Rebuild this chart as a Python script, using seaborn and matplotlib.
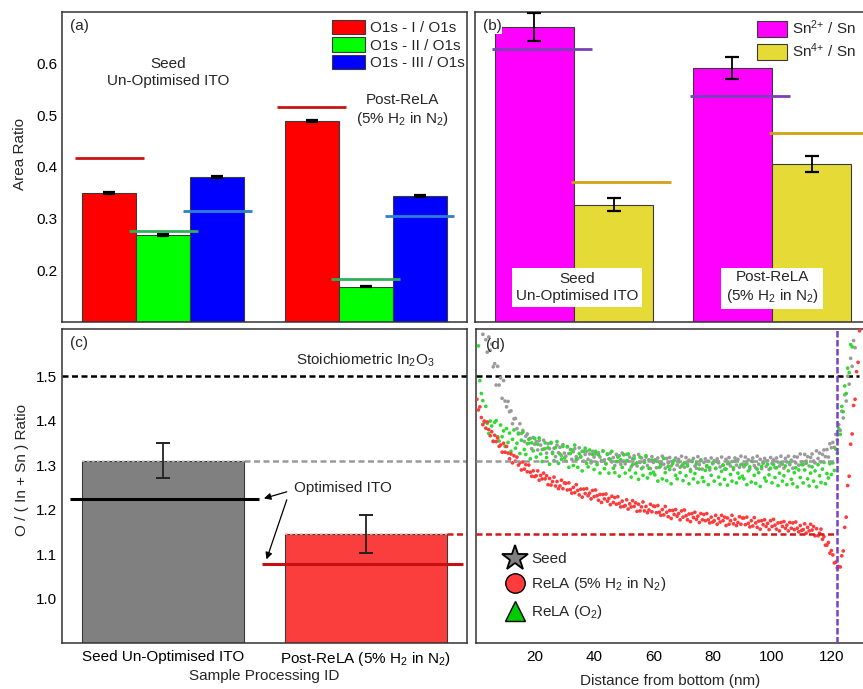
import numpy as np
import pandas as pd
import matplotlib
matplotlib.use("Agg")
import matplotlib.pyplot as plt
import seaborn as sns
from matplotlib.patches import Patch
from matplotlib.lines import Line2D
from matplotlib.ticker import MultipleLocator, FixedLocator

# ------------------------------------------------------------------ data
sample_short = ["Seed", "Post-ReLA"]
sample_labels = ["Seed Un-Optimised ITO", "Post-ReLA (5% H$_2$ in N$_2$)"]

o1s_labels = ["O1s - I / O1s", "O1s - II / O1s", "O1s - III / O1s"]
o1s_seed = [0.350, 0.268, 0.381]
o1s_post = [0.489, 0.168, 0.343]
o1s_err_seed = [0.002, 0.002, 0.002]
o1s_err_post = [0.002, 0.001, 0.002]
o1s_ref_seed = [0.417, 0.277, 0.315]
o1s_ref_post = [0.517, 0.183, 0.306]

sn_labels = ["Sn$^{2{+}}$ / Sn", "Sn$^{4{+}}$ / Sn"]
sn_seed = [0.671, 0.327]
sn_post = [0.592, 0.406]
sn_err_seed = [0.027, 0.013]
sn_err_post = [0.021, 0.015]
sn_ref_seed = [0.629, 0.371]
sn_ref_post = [0.538, 0.465]

ratio_vals = [1.310, 1.145]
ratio_err = [0.040, 0.042]
ratio_opt = [1.223, 1.077]
stoich_ratio = 1.5
interface_nm = 122

depth_nm = [
    0.5, 1.0, 1.5, 2.0, 2.5, 3.0, 3.5, 4.0, 4.5, 5.0, 5.5, 6.0, 6.5, 7.0, 7.5, 8.0, 8.5, 9.0, 9.5, 10.0,
    10.5, 11.0, 11.5, 12.0, 12.5, 13.0, 13.5, 14.0, 14.5, 15.0, 15.5, 16.0, 16.5, 17.0, 17.5, 18.0, 18.5, 19.0, 19.5, 20.0,
    20.5, 21.0, 21.5, 22.0, 22.5, 23.0, 23.5, 24.0, 24.5, 25.0, 25.5, 26.0, 26.5, 27.0, 27.5, 28.0, 28.5, 29.0, 29.5, 30.0,
    30.5, 31.0, 31.5, 32.0, 32.5, 33.0, 33.5, 34.0, 34.5, 35.0, 35.5, 36.0, 36.5, 37.0, 37.5, 38.0, 38.5, 39.0, 39.5, 40.0,
    40.5, 41.0, 41.5, 42.0, 42.5, 43.0, 43.5, 44.0, 44.5, 45.0, 45.5, 46.0, 46.5, 47.0, 47.5, 48.0, 48.5, 49.0, 49.5, 50.0,
    50.5, 51.0, 51.5, 52.0, 52.5, 53.0, 53.5, 54.0, 54.5, 55.0, 55.5, 56.0, 56.5, 57.0, 57.5, 58.0, 58.5, 59.0, 59.5, 60.0,
    60.5, 61.0, 61.5, 62.0, 62.5, 63.0, 63.5, 64.0, 64.5, 65.0, 65.5, 66.0, 66.5, 67.0, 67.5, 68.0, 68.5, 69.0, 69.5, 70.0,
    70.5, 71.0, 71.5, 72.0, 72.5, 73.0, 73.5, 74.0, 74.5, 75.0, 75.5, 76.0, 76.5, 77.0, 77.5, 78.0, 78.5, 79.0, 79.5, 80.0,
    80.5, 81.0, 81.5, 82.0, 82.5, 83.0, 83.5, 84.0, 84.5, 85.0, 85.5, 86.0, 86.5, 87.0, 87.5, 88.0, 88.5, 89.0, 89.5, 90.0,
    90.5, 91.0, 91.5, 92.0, 92.5, 93.0, 93.5, 94.0, 94.5, 95.0, 95.5, 96.0, 96.5, 97.0, 97.5, 98.0, 98.5, 99.0, 99.5, 100.0,
    100.5, 101.0, 101.5, 102.0, 102.5, 103.0, 103.5, 104.0, 104.5, 105.0, 105.5, 106.0, 106.5, 107.0, 107.5, 108.0, 108.5, 109.0, 109.5, 110.0,
    110.5, 111.0, 111.5, 112.0, 112.5, 113.0, 113.5, 114.0, 114.5, 115.0, 115.5, 116.0, 116.5, 117.0, 117.5, 118.0, 118.5, 119.0, 119.5, 120.0,
    120.5, 121.0, 121.5, 122.0, 122.5, 123.0, 123.5, 124.0, 124.5, 125.0, 125.5, 126.0, 126.5, 127.0, 127.5, 128.0, 128.5, 129.0, 129.5, 130.0, 130.5,
]

ratio_seed = [
    1.662, 1.616, 1.650, 1.622, 1.594, 1.628, 1.582, 1.554, 1.588, 1.558, 1.572, 1.521, 1.528, 1.480, 1.522, 1.480, 1.496, 1.450, 1.490, 1.444,
    1.431, 1.443, 1.420, 1.422, 1.393, 1.404, 1.405, 1.382, 1.372, 1.393, 1.371, 1.378, 1.353, 1.365, 1.370, 1.349, 1.360, 1.337, 1.362, 1.347,
    1.353, 1.334, 1.355, 1.345, 1.335, 1.356, 1.337, 1.327, 1.348, 1.337, 1.349, 1.329, 1.338, 1.319, 1.345, 1.328, 1.340, 1.321, 1.346, 1.327,
    1.320, 1.342, 1.326, 1.335, 1.313, 1.330, 1.337, 1.319, 1.314, 1.339, 1.320, 1.331, 1.309, 1.324, 1.331, 1.313, 1.325, 1.305, 1.331, 1.318,
    1.325, 1.306, 1.328, 1.318, 1.309, 1.331, 1.312, 1.303, 1.324, 1.314, 1.327, 1.307, 1.317, 1.299, 1.324, 1.308, 1.321, 1.302, 1.327, 1.309,
    1.303, 1.324, 1.309, 1.318, 1.296, 1.314, 1.321, 1.303, 1.298, 1.324, 1.306, 1.316, 1.295, 1.310, 1.318, 1.299, 1.312, 1.292, 1.319, 1.306,
    1.312, 1.294, 1.316, 1.307, 1.298, 1.320, 1.302, 1.293, 1.315, 1.305, 1.317, 1.298, 1.308, 1.290, 1.316, 1.300, 1.313, 1.295, 1.320, 1.302,
    1.295, 1.317, 1.302, 1.311, 1.290, 1.308, 1.315, 1.298, 1.293, 1.319, 1.301, 1.312, 1.291, 1.306, 1.314, 1.296, 1.309, 1.289, 1.316, 1.303,
    1.310, 1.292, 1.314, 1.305, 1.296, 1.318, 1.300, 1.291, 1.313, 1.303, 1.317, 1.298, 1.308, 1.290, 1.316, 1.300, 1.313, 1.295, 1.320, 1.302,
    1.296, 1.318, 1.303, 1.312, 1.291, 1.309, 1.316, 1.299, 1.294, 1.320, 1.302, 1.313, 1.292, 1.307, 1.315, 1.297, 1.310, 1.290, 1.317, 1.304,
    1.312, 1.294, 1.316, 1.307, 1.298, 1.320, 1.302, 1.293, 1.315, 1.307, 1.320, 1.301, 1.311, 1.293, 1.319, 1.305, 1.318, 1.300, 1.325, 1.307,
    1.301, 1.324, 1.309, 1.319, 1.298, 1.317, 1.325, 1.309, 1.305, 1.332, 1.315, 1.327, 1.307, 1.324, 1.334, 1.319, 1.335, 1.318, 1.348, 1.339,
    1.351, 1.340, 1.369, 1.357, 1.391, 1.378, 1.421, 1.406, 1.458, 1.444, 1.500, 1.482, 1.540, 1.522, 1.580, 1.564, 1.614, 1.620, 1.640, 1.660, 1.680,
]

ratio_rela_h2 = [
    1.448, 1.424, 1.431, 1.407, 1.391, 1.399, 1.383, 1.397, 1.380, 1.366, 1.375, 1.353, 1.367, 1.353, 1.361, 1.342, 1.345, 1.329, 1.349, 1.329,
    1.342, 1.327, 1.314, 1.325, 1.305, 1.321, 1.309, 1.318, 1.300, 1.305, 1.289, 1.307, 1.291, 1.301, 1.285, 1.300, 1.284, 1.275, 1.287, 1.274,
    1.276, 1.287, 1.266, 1.277, 1.269, 1.282, 1.269, 1.276, 1.256, 1.270, 1.255, 1.263, 1.273, 1.253, 1.263, 1.247, 1.253, 1.266, 1.247, 1.260,
    1.259, 1.244, 1.260, 1.245, 1.237, 1.250, 1.238, 1.256, 1.243, 1.233, 1.246, 1.228, 1.246, 1.236, 1.247, 1.231, 1.237, 1.224, 1.243, 1.229,
    1.244, 1.231, 1.221, 1.234, 1.216, 1.234, 1.224, 1.235, 1.219, 1.225, 1.211, 1.230, 1.216, 1.227, 1.212, 1.229, 1.214, 1.206, 1.219, 1.207,
    1.209, 1.222, 1.201, 1.213, 1.206, 1.220, 1.207, 1.215, 1.196, 1.212, 1.197, 1.206, 1.217, 1.197, 1.207, 1.193, 1.199, 1.212, 1.195, 1.208,
    1.207, 1.193, 1.209, 1.194, 1.187, 1.200, 1.188, 1.207, 1.194, 1.184, 1.198, 1.180, 1.198, 1.189, 1.200, 1.185, 1.191, 1.177, 1.197, 1.183,
    1.199, 1.186, 1.177, 1.190, 1.173, 1.191, 1.182, 1.194, 1.178, 1.185, 1.171, 1.191, 1.177, 1.189, 1.175, 1.191, 1.177, 1.170, 1.183, 1.172,
    1.175, 1.187, 1.167, 1.180, 1.172, 1.187, 1.175, 1.183, 1.164, 1.181, 1.167, 1.175, 1.187, 1.168, 1.178, 1.164, 1.171, 1.184, 1.167, 1.181,
    1.181, 1.166, 1.183, 1.169, 1.161, 1.175, 1.163, 1.182, 1.170, 1.160, 1.174, 1.156, 1.175, 1.166, 1.177, 1.162, 1.169, 1.155, 1.175, 1.162,
    1.178, 1.165, 1.156, 1.170, 1.152, 1.171, 1.162, 1.173, 1.158, 1.165, 1.152, 1.171, 1.158, 1.170, 1.155, 1.172, 1.158, 1.150, 1.164, 1.153,
    1.155, 1.168, 1.147, 1.160, 1.152, 1.167, 1.154, 1.162, 1.141, 1.157, 1.141, 1.147, 1.156, 1.133, 1.139, 1.120, 1.120, 1.126, 1.102, 1.108,
    1.098, 1.080, 1.082, 1.069, 1.072, 1.071, 1.096, 1.107, 1.160, 1.183, 1.254, 1.275, 1.347, 1.370, 1.434, 1.448, 1.510, 1.531, 1.602, 1.620, 1.678,
]

ratio_rela_o2 = [
    1.635, 1.568, 1.490, 1.461, 1.445, 1.396, 1.432, 1.394, 1.371, 1.399, 1.388, 1.354, 1.396, 1.400, 1.364, 1.354, 1.390, 1.364, 1.377, 1.342,
    1.382, 1.351, 1.372, 1.331, 1.358, 1.379, 1.338, 1.349, 1.370, 1.326, 1.356, 1.374, 1.335, 1.324, 1.348, 1.358, 1.314, 1.350, 1.332, 1.360,
    1.318, 1.347, 1.361, 1.325, 1.308, 1.336, 1.350, 1.317, 1.339, 1.302, 1.351, 1.326, 1.310, 1.339, 1.353, 1.304, 1.325, 1.313, 1.342, 1.316,
    1.309, 1.341, 1.295, 1.326, 1.334, 1.299, 1.345, 1.313, 1.295, 1.326, 1.318, 1.287, 1.331, 1.338, 1.304, 1.296, 1.334, 1.309, 1.324, 1.290,
    1.331, 1.301, 1.323, 1.282, 1.310, 1.332, 1.292, 1.303, 1.325, 1.282, 1.313, 1.331, 1.293, 1.283, 1.308, 1.318, 1.275, 1.312, 1.295, 1.323,
    1.282, 1.310, 1.325, 1.289, 1.273, 1.301, 1.315, 1.282, 1.305, 1.268, 1.318, 1.292, 1.277, 1.306, 1.321, 1.271, 1.293, 1.281, 1.311, 1.284,
    1.278, 1.309, 1.264, 1.295, 1.303, 1.269, 1.315, 1.283, 1.265, 1.297, 1.290, 1.258, 1.303, 1.310, 1.277, 1.269, 1.307, 1.283, 1.298, 1.265,
    1.305, 1.276, 1.298, 1.258, 1.286, 1.309, 1.269, 1.281, 1.303, 1.261, 1.291, 1.310, 1.272, 1.263, 1.288, 1.299, 1.256, 1.294, 1.277, 1.305,
    1.264, 1.293, 1.308, 1.273, 1.257, 1.286, 1.300, 1.268, 1.291, 1.255, 1.304, 1.279, 1.264, 1.294, 1.309, 1.260, 1.282, 1.271, 1.301, 1.275,
    1.269, 1.301, 1.256, 1.287, 1.296, 1.262, 1.308, 1.277, 1.259, 1.291, 1.283, 1.252, 1.297, 1.304, 1.271, 1.264, 1.302, 1.278, 1.293, 1.260,
    1.301, 1.272, 1.294, 1.254, 1.282, 1.305, 1.264, 1.276, 1.298, 1.256, 1.287, 1.306, 1.268, 1.258, 1.283, 1.294, 1.251, 1.289, 1.272, 1.301,
    1.260, 1.289, 1.304, 1.269, 1.253, 1.282, 1.296, 1.264, 1.287, 1.251, 1.301, 1.276, 1.261, 1.291, 1.306, 1.258, 1.281, 1.271, 1.303, 1.279,
    1.305, 1.288, 1.336, 1.326, 1.382, 1.369, 1.432, 1.420, 1.478, 1.461, 1.518, 1.508, 1.571, 1.566, 1.615, 1.620, 1.660, 1.690, 1.720, 1.750, 1.780,
]

# ------------------------------------------------------------------ style
FS = 11
sns.set_style("white")
plt.rcParams["font.family"] = ["Liberation Sans", "DejaVu Sans"]
plt.rcParams["mathtext.default"] = "regular"
plt.rcParams["font.size"] = FS
plt.rcParams["axes.edgecolor"] = "#333333"
plt.rcParams["axes.linewidth"] = 1.1

W, H = 863, 689
fig = plt.figure(figsize=(W / 100, H / 100), dpi=100)


def rect(x0, y0, x1, y1):
    return [x0 / W, 1 - y1 / H, (x1 - x0) / W, (y1 - y0) / H]


ax_a = fig.add_axes(rect(62, 12, 467, 322))
ax_b = fig.add_axes(rect(475, 12, 871, 322))
ax_c = fig.add_axes(rect(62, 329, 467, 643))
ax_d = fig.add_axes(rect(476, 329, 864, 643))

edge = "#3a3a3a"
DASH = (0, (2.4, 1.4))


def style_ticks(ax):
    ax.tick_params(which="both", direction="in", color="#333333", width=1.0,
                   labelsize=FS, labelcolor="black")
    ax.tick_params(which="major", length=4)
    ax.tick_params(which="minor", length=3)
    for s in ax.spines.values():
        s.set_color("#333333")
        s.set_linewidth(1.1)
        s.set_visible(True)


# ------------------------------------------------------------------ (a)
df_a = pd.DataFrame({
    "sample": [sample_short[0]] * 3 + [sample_short[1]] * 3,
    "component": o1s_labels * 2,
    "ratio": o1s_seed + o1s_post,
})
o1s_colors = ["#FF0000", "#00FF00", "#0000FF"]
o1s_ref_colors = ["#C81414", "#2FB05A", "#2C7FD2"]
sns.barplot(data=df_a, x="sample", y="ratio", hue="component",
            palette=o1s_colors, saturation=1, errorbar=None,
            edgecolor=edge, linewidth=0.8, legend=False, ax=ax_a)
bars_a = list(ax_a.containers)
for i, cont in enumerate(bars_a):
    errs = [o1s_err_seed[i], o1s_err_post[i]]
    refs = [o1s_ref_seed[i], o1s_ref_post[i]]
    for j, p in enumerate(cont.patches):
        xc = p.get_x() + p.get_width() / 2
        ax_a.errorbar(xc, p.get_height(), yerr=errs[j], fmt="none",
                      ecolor="black", elinewidth=1.2, capsize=4, capthick=1.6)
        ax_a.hlines(refs[j], xc - 0.17, xc + 0.17, color=o1s_ref_colors[i], lw=2)
ax_a.set_xlim(-0.5, 1.5)
ax_a.set_ylim(0.1, 0.7)
ax_a.set_yticks([0.2, 0.3, 0.4, 0.5, 0.6])
ax_a.set_xticks([0, 1])
ax_a.xaxis.set_minor_locator(FixedLocator([0.5]))
ax_a.set_xticklabels([])
ax_a.set_xlabel("")
ax_a.set_ylabel("Area Ratio", fontsize=FS)
ax_a.yaxis.set_label_coords(-0.086, 0.542)
style_ticks(ax_a)
ax_a.text(0.02, 0.955, "(a)", transform=ax_a.transAxes, fontsize=FS, va="center")
ax_a.text(0.023, 0.583, "Seed\nUn-Optimised ITO", ha="center", va="center",
          fontsize=FS, linespacing=1.25)
ax_a.text(1.18, 0.51, "Post-ReLA\n(5% H$_2$ in N$_2$)", ha="center", va="center",
          fontsize=FS, linespacing=1.25)
ax_a.legend(
    handles=[Patch(facecolor=c, edgecolor=edge, linewidth=0.8) for c in o1s_colors],
    labels=o1s_labels, loc="upper left", bbox_to_anchor=(0.667, 0.975),
    frameon=False, fontsize=FS, handlelength=2.15, handleheight=1.1,
    labelspacing=0.13, handletextpad=0.3, borderaxespad=0, borderpad=0)

# ------------------------------------------------------------------ (b)
df_b = pd.DataFrame({
    "sample": [sample_short[0]] * 2 + [sample_short[1]] * 2,
    "state": sn_labels * 2,
    "ratio": sn_seed + sn_post,
})
sn_colors = ["#FF00FF", "#E6DB36"]
sn_ref_colors = ["#7B3FB8", "#D4A017"]
sns.barplot(data=df_b, x="sample", y="ratio", hue="state",
            palette=sn_colors, saturation=1, errorbar=None,
            edgecolor=edge, linewidth=0.8, legend=False, ax=ax_b)
bars_b = list(ax_b.containers)
for i, cont in enumerate(bars_b):
    errs = [sn_err_seed[i], sn_err_post[i]]
    refs = [sn_ref_seed[i], sn_ref_post[i]]
    for j, p in enumerate(cont.patches):
        xc = p.get_x() + p.get_width() / 2
        ax_b.errorbar(xc, p.get_height(), yerr=errs[j], fmt="none",
                      ecolor="black", elinewidth=1.3, capsize=5, capthick=1.6, zorder=5)
        ax_b.hlines(refs[j], xc - 0.215, xc + 0.29, color=sn_ref_colors[i], lw=2, zorder=4)
ax_b.set_xlim(-0.5, 1.5)
ax_b.set_ylim(0.1, 0.7)
ax_b.set_yticks([0.2, 0.3, 0.4, 0.5, 0.6])
ax_b.set_yticklabels([])
ax_b.set_xticks([0, 1])
ax_b.xaxis.set_minor_locator(FixedLocator([0.5]))
ax_b.set_xticklabels([])
ax_b.set_xlabel("")
ax_b.set_ylabel("")
style_ticks(ax_b)
ax_b.text(0.02, 0.955, "(b)", transform=ax_b.transAxes, fontsize=FS, va="center",
          bbox=dict(facecolor="white", edgecolor="none", pad=0.5), zorder=6)
box = dict(facecolor="white", edgecolor="none", pad=3)
ax_b.text(0.015, 0.167, "Seed\nUn-Optimised ITO", ha="center", va="center",
          fontsize=FS, linespacing=1.25, bbox=box, zorder=6)
ax_b.text(1.0, 0.167, "Post-ReLA\n(5% H$_2$ in N$_2$)", ha="center", va="center",
          fontsize=FS, linespacing=1.25, bbox=box, zorder=6)
ax_b.legend(
    handles=[Patch(facecolor=c, edgecolor=edge, linewidth=0.8) for c in sn_colors],
    labels=sn_labels, loc="upper left", bbox_to_anchor=(0.712, 0.978),
    frameon=False, fontsize=FS, handlelength=1.95, handleheight=1.24,
    labelspacing=0.26, handletextpad=0.35, borderaxespad=0, borderpad=0)

# ------------------------------------------------------------------ (c)
df_c = pd.DataFrame({"sample": sample_labels, "ratio": ratio_vals})
ratio_colors = ["#808080", "#FA3E3E"]
sns.barplot(data=df_c, x="sample", y="ratio", hue="sample",
            palette=ratio_colors, saturation=1, errorbar=None,
            edgecolor=edge, linewidth=0.8, legend=False, ax=ax_c)
bars_c = [c.patches[0] for c in list(ax_c.containers)]
for j, p in enumerate(bars_c):
    xc = p.get_x() + p.get_width() / 2
    ax_c.errorbar(xc, p.get_height(), yerr=ratio_err[j], fmt="none",
                  ecolor="#222222", elinewidth=1.3, capsize=5, capthick=1.4, zorder=5)
# stoichiometric line
ax_c.axhline(stoich_ratio, color="black", ls=DASH, lw=1.8)
ax_d.axhline(stoich_ratio, xmax=(129.3 - 0.2) / (131 - 0.2), color="black",
             ls=DASH, lw=1.8)
ax_c.text(0.656, stoich_ratio + 0.015, "Stoichiometric In$_2$O$_3$",
          ha="left", va="bottom", fontsize=FS)
# measured averages carried into (d)
p0, p1 = bars_c
ax_c.hlines(ratio_vals[0], p0.get_x(), p0.get_x() + p0.get_width(),
            color="#d0d0d0", ls=(0, (1.5, 1.5)), lw=1.2, zorder=4)
ax_c.hlines(ratio_vals[0], p0.get_x() + p0.get_width(), 1.5,
            color="#9a9a9a", ls=DASH, lw=1.8)
ax_c.hlines(ratio_vals[1], p1.get_x(), p1.get_x() + p1.get_width(),
            color="#ffb0b0", ls=(0, (1.5, 1.5)), lw=1.2, zorder=4)
ax_c.hlines(ratio_vals[1], p1.get_x() + p1.get_width(), 1.5,
            color="#D01818", ls=DASH, lw=1.8)
# optimised ITO markers
x0c = p0.get_x() + p0.get_width() / 2
x1c = p1.get_x() + p1.get_width() / 2
ax_c.hlines(ratio_opt[0], x0c - 0.46, x0c + 0.475, color="black", lw=2.2, zorder=6)
ax_c.hlines(ratio_opt[1], x1c - 0.51, x1c + 0.48, color="#C81010", lw=2.2, zorder=6)
ax_c.text(0.645, 1.249, "Optimised ITO", ha="left", va="center", fontsize=FS)
arrow = dict(arrowstyle="-|>", color="black", lw=0.9, mutation_scale=10,
             shrinkA=0, shrinkB=0)
ax_c.annotate("", xy=(0.497, 1.225), xytext=(0.61, 1.240), arrowprops=arrow)
ax_c.annotate("", xy=(0.51, 1.088), xytext=(0.61, 1.222), arrowprops=arrow)
ax_c.set_xlim(-0.5, 1.5)
ax_c.set_ylim(0.9, 1.606)
ax_c.set_yticks([1.0, 1.1, 1.2, 1.3, 1.4, 1.5])
ax_c.yaxis.set_minor_locator(MultipleLocator(0.05))
ax_c.set_xticks([0, 1])
ax_c.xaxis.set_minor_locator(FixedLocator([0.5]))
ax_c.set_xticklabels(sample_labels)
ax_c.set_xlabel("Sample Processing ID", fontsize=FS, labelpad=1)
ax_c.set_ylabel("O / ( In + Sn ) Ratio", fontsize=FS)
ax_c.yaxis.set_label_coords(-0.081, 0.55)
style_ticks(ax_c)
ax_c.tick_params(axis="x", pad=5)
ax_c.text(0.02, 0.955, "(c)", transform=ax_c.transAxes, fontsize=FS, va="center")

# ------------------------------------------------------------------ (d)
df_d = pd.DataFrame({
    "depth": depth_nm * 3,
    "ratio": ratio_seed + ratio_rela_o2 + ratio_rela_h2,
    "sample": ["Seed"] * len(depth_nm) + ["ReLA (O2)"] * len(depth_nm)
              + ["ReLA (H2)"] * len(depth_nm),
})
sns.scatterplot(data=df_d, x="depth", y="ratio", hue="sample",
                palette={"Seed": "#9a9a9a", "ReLA (O2)": "#2EDB2E", "ReLA (H2)": "#FF3A3A"},
                s=7, linewidth=0, legend=False, ax=ax_d, zorder=3)
d_frac = (interface_nm - 0.2) / (131 - 0.2)
ax_d.axhline(ratio_vals[0], xmax=d_frac, color="#9a9a9a", ls=DASH, lw=1.8, zorder=4)
ax_d.axhline(ratio_vals[1], xmax=d_frac, color="#D01818", ls=DASH, lw=1.8, zorder=4)
ax_d.axvline(interface_nm, color="#7B3FC8", ls=(0, (2.6, 1.0)), lw=1.8, zorder=5)
ax_d.set_xlim(0.2, 131)
ax_d.set_ylim(0.9, 1.606)
ax_d.set_yticks([1.0, 1.1, 1.2, 1.3, 1.4, 1.5])
ax_d.yaxis.set_minor_locator(MultipleLocator(0.05))
ax_d.set_yticklabels([])
ax_d.set_xticks([20, 40, 60, 80, 100, 120])
ax_d.xaxis.set_minor_locator(MultipleLocator(10))
ax_d.set_xlabel("Distance from bottom (nm)", fontsize=FS, labelpad=7)
ax_d.set_ylabel("")
style_ticks(ax_d)
ax_d.tick_params(axis="x", pad=5)
ax_d.text(0.025, 0.95, "(d)", transform=ax_d.transAxes, fontsize=FS, va="center")
handles_d = [
    Line2D([], [], ls="none", marker="*", ms=19, mfc="#808080", mec="black", mew=1.3),
    Line2D([], [], ls="none", marker="o", ms=14, mfc="#FF3B3B", mec="black", mew=1.0),
    Line2D([], [], ls="none", marker="^", ms=15, mfc="#00CC00", mec="black", mew=1.0),
]
ax_d.legend(handles=handles_d,
            labels=["Seed", "ReLA (5% H$_2$ in N$_2$)", "ReLA (O$_2$)"],
            loc="upper left", bbox_to_anchor=(0.075, 0.29), frameon=False,
            fontsize=FS, handlelength=1.3, handletextpad=0.4,
            labelspacing=0.62, borderaxespad=0, borderpad=0)

fig.savefig("out.png", dpi=100)
